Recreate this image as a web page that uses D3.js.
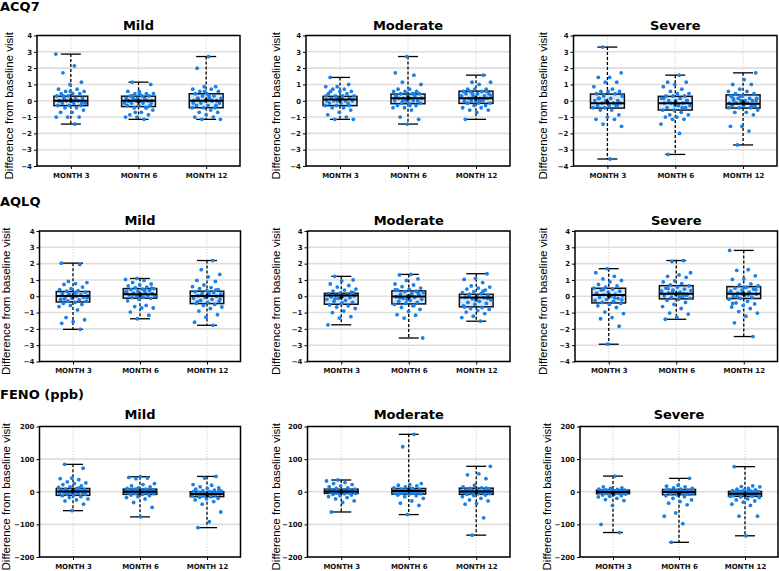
<!DOCTYPE html>
<html><head><meta charset="utf-8">
<script src="https://cdn.jsdelivr.net/npm/d3@7"></script>
<style>html,body{margin:0;padding:0;background:#fff;}svg{display:block;}</style>
</head><body><svg id="c" width="779" height="571"></svg>
<script>
// ---------- data ----------
const measures = ["ACQ7", "AQLQ", "FENO (ppb)"];
const severities = ["Mild", "Moderate", "Severe"];
const months = ["MONTH 3", "MONTH 6", "MONTH 12"];
const scoreTicks = [-4, -3, -2, -1, 0, 1, 2, 3, 4];
const fenoTicks = [-200, -100, 0, 100, 200];
const yLabel = "Difference from baseline visit";

// box stats: [lower whisker, q1, median, q3, upper whisker, mean]
const acq7MildStats = [[-1.43, -0.3, 0, 0.28, 2.86, 0.05], [-1.14, -0.36, 0, 0.28, 1.14, -0.05], [-1.14, -0.43, 0, 0.43, 2.71, 0.05]];
const acq7ModerateStats = [[-1.14, -0.3, 0.07, 0.27, 1.43, 0.05], [-1.43, -0.18, 0.16, 0.41, 2.71, 0.15], [-1.14, -0.16, 0.16, 0.59, 1.57, 0.16]];
const acq7SevereStats = [[-3.57, -0.45, -0.16, 0.41, 3.29, -0.08], [-3.29, -0.57, -0.16, 0.27, 1.57, -0.12], [-2.71, -0.45, -0.18, 0.36, 1.71, -0.1]];
const aqlqMildStats = [[-2.03, -0.35, 0.02, 0.29, 2.03, 0], [-1.38, -0.12, 0.13, 0.47, 1.09, 0.1], [-1.78, -0.45, 0.02, 0.31, 2.19, 0.02]];
const aqlqModerateStats = [[-1.75, -0.49, 0.05, 0.18, 1.22, -0.05], [-2.56, -0.47, -0.02, 0.33, 1.34, -0.05], [-1.53, -0.65, -0.08, 0.12, 1.38, -0.1]];
const aqlqSevereStats = [[-2.94, -0.41, 0.08, 0.49, 1.69, 0.02], [-1.41, -0.16, 0.16, 0.65, 2.19, 0.16], [-2.47, -0.14, 0.16, 0.59, 2.81, 0.14]];
const fenoMildStats = [[-58, -11, 1, 10, 84, 3], [-77, -8, 0, 8, 46, 0], [-110, -15, -7, 0, 47, -8]];
const fenoModerateStats = [[-62, -5, 1, 8, 36, 0], [-70, -7, 2, 10, 176, 4], [-133, -8, 1, 11, 78, -1]];
const fenoSevereStats = [[-125, -6, -1, 5, 48, -5], [-155, -9, -1, 7, 41, -6], [-135, -14, -6, 1, 77, -8]];

// individual patient differences
const acq7MildPts = [
 [2.86, 2.14, 1.71, 1.14, 1.0, 0.71, 0.71, 0.57, 0.57, 0.43, 0.43, 0.43, 0.29, 0.29, 0.14, 0.14, 0.14, 0, 0, 0, 0, -0.14, -0.14, -0.14, -0.29, -0.29, -0.29, -0.43, -0.43, -0.57, -0.71, -0.71, -1.0, -1.0, -1.0, -1.43, 0.29, -0.14, 0.57, 0],
 [1.14, 1.0, 0.57, 0.57, 0.43, 0.43, 0.43, 0.29, 0.29, 0.29, 0.14, 0.14, 0.14, 0.14, 0, 0, 0, 0, 0, -0.14, -0.14, -0.14, -0.29, -0.29, -0.29, -0.43, -0.43, -0.57, -0.71, -0.86, -0.86, -1.0, -1.0, -1.14, 0.29, -0.14, 0.43, 0, -0.43, -0.71],
 [2.71, 2.0, 0.86, 0.86, 0.71, 0.71, 0.57, 0.57, 0.43, 0.43, 0.29, 0.29, 0.14, 0.14, 0.14, 0, 0, 0, 0, -0.14, -0.14, -0.29, -0.29, -0.43, -0.43, -0.43, -0.57, -0.71, -0.71, -0.86, -1.0, -1.0, -1.14, -1.14, 0.29, 0.14, -0.29, 0.57, -0.14, 0]];
const acq7ModeratePts = [
 [1.43, 1.0, 0.86, 0.86, 0.71, 0.71, 0.57, 0.57, 0.43, 0.43, 0.29, 0.29, 0.29, 0.14, 0.14, 0.14, 0, 0, 0, 0, -0.14, -0.14, -0.14, -0.29, -0.29, -0.43, -0.43, -0.57, -0.71, -0.86, -1.0, -1.14, -1.14, 0.14, 0.57, -0.29, 0, 0.29],
 [2.71, 1.71, 1.57, 1.14, 1.0, 0.71, 0.71, 0.57, 0.57, 0.57, 0.43, 0.43, 0.43, 0.29, 0.29, 0.29, 0.14, 0.14, 0.14, 0.14, 0, 0, 0, 0, -0.14, -0.14, -0.14, -0.29, -0.29, -0.43, -0.43, -0.57, -1.0, -1.14, -1.43, 0.29, 0.43, 0, 0.14, -0.29],
 [1.57, 1.14, 1.14, 1.0, 0.71, 0.71, 0.71, 0.57, 0.57, 0.57, 0.43, 0.43, 0.43, 0.29, 0.29, 0.29, 0.14, 0.14, 0.14, 0, 0, 0, 0, -0.14, -0.14, -0.14, -0.29, -0.29, -0.43, -0.43, -0.57, -0.57, -0.71, -1.14, 0.14, 0.43, 0.29, 0, -0.14, 0.57]];
const acq7SeverePts = [
 [3.29, 1.71, 1.43, 1.43, 1.14, 1.14, 0.86, 0.71, 0.57, 0.57, 0.57, 0.43, 0.43, 0.29, 0.29, 0.14, 0.14, 0, 0, 0, -0.14, -0.14, -0.14, -0.29, -0.29, -0.29, -0.43, -0.43, -0.57, -0.57, -0.86, -1.0, -1.14, -1.14, -1.43, -1.57, -3.57, 0.14, -0.29, 0],
 [1.57, 1.14, 1.14, 1.0, 0.86, 0.71, 0.57, 0.43, 0.43, 0.29, 0.29, 0.29, 0.14, 0.14, 0, 0, 0, -0.14, -0.14, -0.14, -0.29, -0.29, -0.43, -0.43, -0.57, -0.57, -0.71, -0.86, -0.86, -1.0, -1.0, -1.14, -1.14, -1.43, -2.0, -3.29, 0, -0.29, 0.14, -0.43],
 [1.71, 1.29, 1.0, 1.0, 0.71, 0.57, 0.57, 0.43, 0.43, 0.29, 0.29, 0.14, 0.14, 0.14, 0, 0, 0, 0, -0.14, -0.14, -0.14, -0.29, -0.29, -0.29, -0.43, -0.43, -0.57, -0.71, -0.71, -0.86, -1.57, -1.57, -1.86, -2.71, 0, -0.14, 0.14, -0.29, 0.29, -0.43]];
const aqlqMildPts = [
 [2.03, 1.94, 0.91, 0.84, 0.78, 0.72, 0.56, 0.47, 0.41, 0.34, 0.31, 0.25, 0.19, 0.16, 0.09, 0.06, 0.03, 0, -0.03, -0.06, -0.13, -0.19, -0.22, -0.28, -0.31, -0.38, -0.44, -0.5, -0.56, -0.63, -0.84, -1.31, -1.44, -1.56, -1.66, -2.03, 0.13, -0.09, 0.22, -0.16],
 [1.09, 1.03, 0.97, 0.84, 0.75, 0.69, 0.63, 0.56, 0.53, 0.47, 0.44, 0.41, 0.34, 0.31, 0.28, 0.22, 0.19, 0.16, 0.13, 0.09, 0.06, 0.03, 0, -0.06, -0.09, -0.13, -0.19, -0.28, -0.56, -0.63, -0.72, -0.72, -0.97, -1.16, -1.38, 0.25, 0.38, 0.13, 0.5, 0],
 [2.19, 1.63, 1.34, 1.19, 0.97, 0.91, 0.69, 0.59, 0.53, 0.47, 0.41, 0.34, 0.28, 0.22, 0.16, 0.13, 0.06, 0.03, 0, -0.06, -0.13, -0.19, -0.25, -0.31, -0.38, -0.44, -0.5, -0.56, -0.66, -0.75, -0.91, -1.13, -1.28, -1.59, -1.78, 0.09, -0.16, 0.25, -0.34, 0.38]];
const aqlqModeratePts = [
 [1.22, 1.0, 0.94, 0.75, 0.66, 0.56, 0.44, 0.38, 0.31, 0.25, 0.19, 0.16, 0.13, 0.06, 0.03, 0, -0.03, -0.09, -0.13, -0.19, -0.25, -0.31, -0.38, -0.47, -0.53, -0.59, -0.66, -0.75, -0.91, -1.0, -1.25, -1.34, -1.75, 0.09, -0.16, 0.22, -0.41, 0],
 [1.34, 1.31, 1.06, 0.97, 0.75, 0.69, 0.59, 0.5, 0.44, 0.38, 0.31, 0.28, 0.22, 0.16, 0.13, 0.06, 0, -0.03, -0.06, -0.13, -0.19, -0.25, -0.31, -0.38, -0.44, -0.5, -0.59, -0.69, -0.81, -0.94, -1.13, -1.16, -1.34, -2.56, 0.09, -0.09, 0.19, -0.22, 0.41, -0.56],
 [1.38, 1.09, 1.03, 0.84, 0.63, 0.56, 0.5, 0.44, 0.38, 0.28, 0.22, 0.16, 0.13, 0.06, 0, -0.06, -0.09, -0.16, -0.22, -0.31, -0.38, -0.44, -0.5, -0.59, -0.69, -0.75, -0.81, -0.88, -0.97, -1.06, -1.22, -1.31, -1.53, 0.03, -0.13, -0.25, -0.66, 0.31]];
const aqlqSeverePts = [
 [1.69, 1.44, 1.22, 1.06, 0.97, 0.88, 0.72, 0.63, 0.56, 0.5, 0.44, 0.38, 0.31, 0.25, 0.19, 0.13, 0.09, 0.03, 0, -0.06, -0.13, -0.19, -0.25, -0.31, -0.38, -0.44, -0.5, -0.59, -0.69, -0.97, -1.06, -1.31, -1.38, -1.84, -2.94, 0.16, -0.09, 0.41, -0.22, 0.06],
 [2.19, 2.13, 1.44, 1.31, 1.22, 1.16, 0.94, 0.88, 0.78, 0.69, 0.63, 0.56, 0.5, 0.44, 0.38, 0.31, 0.25, 0.19, 0.13, 0.09, 0.03, 0, -0.06, -0.13, -0.19, -0.25, -0.38, -0.5, -0.63, -0.75, -1.03, -1.09, -1.28, -1.41, 0.16, 0.22, 0.34, -0.03, 0.47, 0.06],
 [2.81, 1.63, 1.59, 1.25, 1.06, 1.03, 0.75, 0.69, 0.63, 0.56, 0.5, 0.44, 0.38, 0.31, 0.25, 0.19, 0.13, 0.06, 0, -0.06, -0.13, -0.19, -0.31, -0.41, -0.47, -0.56, -0.66, -0.75, -0.94, -1.03, -1.22, -1.63, -2.47, 0.16, 0.22, 0.09, -0.03, 0.41, 0.53, -0.44]];
const fenoMildPts = [
 [84, 72, 42, 40, 37, 30, 27, 25, 22, 18, 15, 13, 10, 8, 7, 5, 4, 3, 2, 1, 0, -1, -2, -3, -4, -5, -7, -8, -10, -12, -15, -18, -22, -25, -28, -38, -58, 5, 12, -6],
 [46, 44, 42, 40, 25, 22, 18, 15, 12, 10, 8, 7, 6, 5, 4, 3, 2, 1, 0, 0, -1, -2, -3, -4, -5, -6, -8, -10, -12, -15, -18, -22, -33, -48, -77, 3, -2, 8, 1, -4],
 [47, 42, 22, 20, 15, 12, 10, 8, 5, 3, 2, 0, -1, -2, -3, -4, -5, -6, -7, -8, -9, -10, -12, -13, -15, -17, -20, -22, -25, -30, -38, -62, -92, -110, -5, -10, 0, -7, -14, 5]];
const fenoModeratePts = [
 [36, 33, 28, 25, 22, 18, 15, 12, 10, 8, 6, 5, 4, 3, 2, 1, 0, 0, -1, -2, -3, -4, -5, -6, -8, -10, -12, -15, -18, -22, -28, -33, -62, 2, -2, 5, 0, -5],
 [176, 138, 25, 22, 20, 18, 15, 12, 10, 8, 7, 5, 4, 3, 2, 1, 0, 0, -1, -2, -3, -4, -5, -6, -8, -10, -12, -15, -20, -28, -35, -42, -70, 3, -2, 6, 0, 10, -7, 1],
 [78, 55, 52, 40, 20, 15, 12, 10, 8, 6, 5, 4, 3, 2, 1, 0, 0, -1, -2, -3, -4, -5, -6, -8, -10, -12, -15, -20, -25, -28, -36, -38, -80, -133, 2, -2, 5, 11, -8, 0]];
const fenoSeverePts = [
 [48, 15, 12, 10, 8, 7, 6, 5, 4, 3, 2, 1, 0, 0, -1, -2, -3, -4, -5, -6, -7, -8, -10, -12, -14, -16, -20, -24, -27, -42, -100, -125, -1, 2, -3, 4, -6, 0],
 [41, 20, 17, 15, 12, 10, 8, 6, 5, 4, 3, 2, 1, 0, 0, -1, -2, -3, -4, -5, -6, -8, -10, -12, -15, -20, -25, -30, -35, -40, -65, -75, -98, -155, 2, -2, 5, -7, 0, 7],
 [77, 18, 16, 15, 10, 8, 6, 5, 3, 2, 1, 0, -1, -2, -3, -4, -5, -6, -7, -8, -10, -12, -14, -16, -18, -22, -25, -28, -32, -38, -42, -75, -75, -135, -6, -10, 0, -14, 1, -3]];

// ---------- assemble ----------
const statsGrid = [[acq7MildStats, acq7ModerateStats, acq7SevereStats], [aqlqMildStats, aqlqModerateStats, aqlqSevereStats], [fenoMildStats, fenoModerateStats, fenoSevereStats]];
const ptsGrid = [[acq7MildPts, acq7ModeratePts, acq7SeverePts], [aqlqMildPts, aqlqModeratePts, aqlqSeverePts], [fenoMildPts, fenoModeratePts, fenoSeverePts]];
const tickSets = [scoreTicks, scoreTicks, fenoTicks];

// ---------- layout ----------
const rowTop = [35.5, 231, 426.5], rowBottom = [166, 361.5, 557];
const colLeft = [[37, 306, 573.5], [39.5, 307.5, 575], [39.5, 307.5, 580]];
const colRight = [[240, 510, 777], [240.5, 510, 777.5], [240.5, 510, 778]];
const yLabX = [[9, 276, 543], [6, 276, 542.5], [6, 276, 547]];
const rowTitleY = [11, 206, 399];
const panelTitleY = [29.5, 224.5, 418.5];

const svg = d3.select("#c");
const boldFont = "'DejaVu Sans', Verdana, sans-serif";
const ptColor = "#1a80e6";

measures.forEach((m, r) => {
  svg.append("text").attr("x", 0).attr("y", rowTitleY[r])
    .attr("font-family", boldFont).attr("font-weight", "bold").attr("font-size", 13)
    .attr("fill", "#000").text(m);

  severities.forEach((s, c) => {
    const L = colLeft[r][c], R = colRight[r][c], T = rowTop[r], B = rowBottom[r];
    const y = d3.scaleLinear().domain(d3.extent(tickSets[r])).range([B, T]);
    const x = d3.scalePoint().domain(months).range([L, R]).padding(0.5);
    const g = svg.append("g");

    // title
    g.append("text").attr("x", (L + R) / 2).attr("y", panelTitleY[r]).attr("text-anchor", "middle")
      .attr("font-family", boldFont).attr("font-weight", "bold").attr("font-size", 13).text(s);

    // grid
    g.append("g").selectAll("line").data(tickSets[r]).join("line")
      .attr("x1", L).attr("x2", R).attr("y1", d => y(d)).attr("y2", d => y(d))
      .attr("stroke", "#dedede").attr("stroke-width", 1.6);
    g.append("g").selectAll("line").data(months).join("line")
      .attr("x1", d => x(d)).attr("x2", d => x(d)).attr("y1", T).attr("y2", B)
      .attr("stroke", "#d8d8d8").attr("stroke-width", 1).attr("stroke-dasharray", "1.5,1.5");

    // axes
    const ya = d3.axisLeft(y).tickValues(tickSets[r]).tickSize(3).tickPadding(2).tickFormat(d3.format("d"));
    const yg = g.append("g").attr("transform", `translate(${L},0)`).call(ya);
    const xa = d3.axisBottom(x).tickSize(3).tickPadding(4);
    const xg = g.append("g").attr("transform", `translate(0,${B})`).call(xa);
    [yg, xg].forEach(a => {
      a.select(".domain").remove();
      a.selectAll(".tick line").attr("stroke", "#000").attr("stroke-width", 1);
      a.selectAll(".tick text").attr("font-family", boldFont).attr("font-weight", "bold")
        .attr("font-size", 7).attr("fill", "#111");
    });

    // y label
    const cy = (T + B) / 2 + 5;
    g.append("text").attr("transform", `translate(${yLabX[r][c]},${cy}) rotate(-90)`)
      .attr("text-anchor", "middle").attr("dominant-baseline", "central")
      .attr("font-family", "'Liberation Sans', Arial, sans-serif").attr("font-size", 11.5)
      .attr("fill", "#000").text(yLabel);

    const bw = x.step() / 2, cw = 20;
    months.forEach((mo, k) => {
      const st = statsGrid[r][c][k], cx = x(mo);
      const [lo, q1, med, q3, hi, mean] = st;
      // whiskers
      g.append("line").attr("x1", cx).attr("x2", cx).attr("y1", y(hi)).attr("y2", y(q3))
        .attr("stroke", "#000").attr("stroke-width", 1.3).attr("stroke-dasharray", "3,2");
      g.append("line").attr("x1", cx).attr("x2", cx).attr("y1", y(q1)).attr("y2", y(lo))
        .attr("stroke", "#000").attr("stroke-width", 1.3).attr("stroke-dasharray", "3,2");
      [lo, hi].forEach(v => g.append("line").attr("x1", cx - cw / 2).attr("x2", cx + cw / 2)
        .attr("y1", y(v)).attr("y2", y(v)).attr("stroke", "#000").attr("stroke-width", 1.3));
      // box
      g.append("rect").attr("x", cx - bw / 2).attr("width", bw)
        .attr("y", y(q3)).attr("height", Math.max(0.5, y(q1) - y(q3)))
        .attr("fill", "#d7e7f7").attr("stroke", "#111").attr("stroke-width", 1.5);
      // points
      const pts = ptsGrid[r][c][k];
      g.append("g").selectAll("circle").data(pts).join("circle")
        .attr("cx", (d, i) => cx + (((i * 0.6180339 + k * 0.29 + c * 0.17 + r * 0.11) % 1) - 0.5) * 30)
        .attr("cy", d => y(d)).attr("r", 1.9).attr("fill", ptColor);
      // median & mean
      g.append("line").attr("x1", cx - bw / 2).attr("x2", cx + bw / 2).attr("y1", y(med)).attr("y2", y(med))
        .attr("stroke", "#000").attr("stroke-width", 2);
      g.append("path").attr("d", d3.symbol(d3.symbolDiamond, 14)()).attr("transform", `translate(${cx},${y(mean)})`)
        .attr("fill", "#000");
    });

    // frame
    g.append("rect").attr("x", L).attr("y", T).attr("width", R - L).attr("height", B - T)
      .attr("fill", "none").attr("stroke", "#000").attr("stroke-width", 1.5);
  });
});
</script></body></html>
